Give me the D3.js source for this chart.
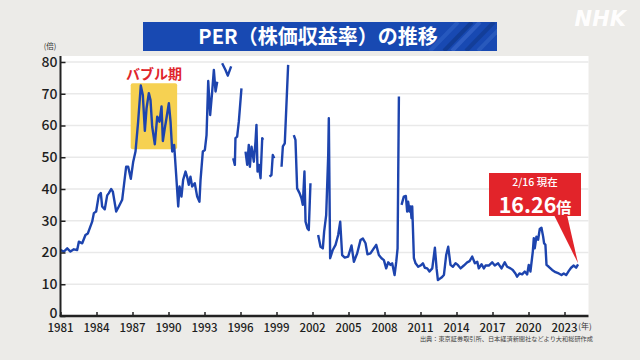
<!DOCTYPE html>
<html>
<head>
<meta charset="utf-8">
<script src="https://cdn.jsdelivr.net/npm/d3@7"></script>
<style>
body{margin:0;background:#ecebe8;}
svg{display:block;}
</style>
</head>
<body>
<svg id="chart"></svg>
<script>
/* PER (price earnings ratio) of the Tokyo market.
   null marks a break in the line (value off the chart / not defined) */
var years = [
  1981.00,1981.28,1981.56,1981.83,1982.11,1982.39,1982.53,1982.81,1983.08,1983.28,
  1983.64,1983.78,1983.97,1984.19,1984.36,1984.47,1984.69,1984.89,1985.03,1985.22,
  1985.36,1985.64,1985.86,1986.14,1986.47,1986.64,1986.86,1987.06,1987.25,1987.47,
  1987.69,1987.86,1988.03,1988.17,1988.36,1988.50,1988.64,1988.86,1989.06,1989.25,
  1989.42,1989.53,1989.69,1989.83,1990.03,1990.17,1990.31,1990.47,1990.64,1990.81,
  1990.92,1991.08,1991.22,1991.42,1991.58,1991.69,1991.83,1991.97,1992.19,1992.39,
  1992.58,1992.67,1992.86,1993.03,1993.17,1993.31,1993.47,1993.64,1993.78,1993.92,
  1994.06,1994.25,1994.47,1994.75,1994.94,1995.22,1995.30,1995.39,1995.53,1995.58,
  1995.72,1995.86,1996.08,1996.25,1996.42,1996.56,1996.69,1996.78,1996.92,1997.03,
  1997.11,1997.25,1997.33,1997.42,1997.53,1997.67,1997.81,1997.89,1998.15,1998.42,
  1998.58,1998.69,1998.81,1999.10,1999.42,1999.53,1999.69,1999.97,2000.20,2000.44,
  2000.58,2000.72,2000.92,2001.08,2001.19,2001.33,2001.42,2001.58,2001.69,2001.83,
  2002.15,2002.47,2002.67,2002.86,2002.97,2003.14,2003.31,2003.36,2003.47,2003.69,
  2003.92,2004.14,2004.31,2004.47,2004.69,2004.97,2005.25,2005.45,2005.72,2006.00,
  2006.20,2006.42,2006.58,2006.83,2007.11,2007.31,2007.53,2007.75,2007.95,2008.14,
  2008.31,2008.50,2008.64,2008.84,2008.98,2009.09,2009.20,2009.30,2009.42,2009.61,
  2009.78,2009.89,2009.97,2010.09,2010.17,2010.25,2010.31,2010.45,2010.59,2010.81,
  2011.00,2011.20,2011.36,2011.56,2011.75,2011.98,2012.20,2012.34,2012.45,2012.75,
  2012.95,2013.14,2013.31,2013.50,2013.70,2013.92,2014.11,2014.34,2014.61,2014.89,
  2015.09,2015.31,2015.53,2015.73,2015.86,2016.09,2016.28,2016.42,2016.69,2016.97,
  2017.19,2017.47,2017.75,2018.02,2018.22,2018.50,2018.69,2018.91,2019.05,2019.25,
  2019.47,2019.69,2019.89,2020.02,2020.16,2020.36,2020.44,2020.52,2020.66,2020.80,
  2020.94,2021.08,2021.22,2021.30,2021.41,2021.50,2021.69,2021.97,2022.25,2022.52,
  2022.75,2022.94,2023.14,2023.36,2023.55,2023.77,2023.97,2024.13
];
var perValues = [
  20.8,20.3,21.3,20.3,21.0,20.8,23.4,22.9,25.5,26.0,
  29.7,32.4,32.9,38.0,38.7,34.5,33.6,38.0,38.7,40.0,
  39.2,32.9,34.5,36.6,47.0,47.0,43.2,48.6,51.8,61.2,
  72.6,69.6,58.3,65.4,70.2,68.0,59.7,54.1,62.8,61.2,
  66.0,55.1,59.1,62.3,67.0,61.2,51.8,53.9,44.4,34.5,
  40.8,37.6,42.9,45.5,43.4,41.3,43.9,40.8,41.8,37.6,
  36.0,42.9,51.8,52.3,57.0,74.0,63.3,70.7,77.5,70.7,
  73.8,null,79.6,77.5,75.7,78.6,null,49.7,47.6,56.0,
  56.5,61.2,71.7,null,51.8,47.6,53.9,47.0,53.3,50.7,
  48.6,54.9,60.2,45.5,47.6,43.4,56.0,55.5,null,43.9,
  44.4,50.7,49.7,null,47.0,53.4,54.4,79.1,null,57.0,
  55.5,40.2,38.7,37.1,35.0,45.5,29.7,27.6,27.1,41.8,
  null,25.5,21.8,21.3,26.6,31.8,50.7,62.3,18.2,20.8,
  22.4,25.5,29.7,19.2,18.4,18.7,22.2,17.1,19.7,23.9,
  24.4,22.9,19.4,19.7,21.3,22.4,19.2,18.2,17.6,15.0,
  16.9,16.1,16.6,12.9,17.1,21.3,69.1,null,35.0,37.6,
  37.8,32.9,36.0,32.9,34.5,30.8,34.5,18.2,16.6,15.5,
  15.9,16.6,15.2,15.0,14.0,15.0,21.5,15.0,11.3,12.1,
  12.9,19.2,21.8,16.1,15.5,16.6,16.1,15.0,15.9,16.9,
  17.3,18.7,16.6,17.1,15.0,16.3,15.0,15.9,15.9,16.9,
  15.9,16.6,15.0,16.9,15.5,15.0,14.5,13.4,12.4,13.4,
  13.1,14.0,13.1,16.1,14.0,20.3,24.5,21.3,25.0,24.0,
  27.4,27.8,25.0,22.9,22.4,16.1,15.5,14.5,13.8,13.4,
  12.9,13.4,12.9,14.2,15.2,15.9,15.2,16.26
];

var yTicks = [0,10,20,30,40,50,60,70,80];
var xTicks = [1981,1984,1987,1990,1993,1996,1999,2002,2005,2008,2011,2014,2017,2020,2023];

/* bubble era highlight: years and PER range of the yellow box */
var bubbleYears = [1986.85, 1990.72];
var bubbleRange = [52.5, 73.3];

var titleText = "PER（株価収益率）の推移";
var sourceText = "出典：東京証券取引所、日本経済新聞社などより大和総研作成";
var latestLabel = "2/16 現在";
var latestValue = "16.26";

var W = 640, H = 360;
var svg = d3.select("#chart").attr("width", W).attr("height", H);

var xScale = d3.scaleLinear().domain([1981, 2025]).range([60.5, 588.5]);
var yScale = d3.scaleLinear().domain([0, 80]).range([316, 62]);

var jp = "'Noto Sans CJK JP', 'Noto Sans', sans-serif";

/* background */
svg.append("rect").attr("width", W).attr("height", H).attr("fill", "#ecebe8");

/* NHK mark */
svg.append("text")
  .attr("x", 626).attr("y", 26)
  .attr("text-anchor", "end")
  .attr("font-family", "'DejaVu Sans', sans-serif")
  .attr("font-weight", "bold")
  .attr("font-style", "italic")
  .attr("font-size", 21)
  .attr("fill", "#ffffff")
  .attr("opacity", 0.95)
  .text("NHK");

/* title banner */
var banner = svg.append("g");
banner.append("clipPath").attr("id", "bannerClip")
  .append("rect").attr("x", 143).attr("y", 22).attr("width", 354).attr("height", 29);
banner.append("rect")
  .attr("x", 143).attr("y", 22).attr("width", 354).attr("height", 29)
  .attr("fill", "#1849b2");
/* the diagonal streaks on the right end */
var streaks = [[430, "#2a5cc2"], [444, "#10398f"], [452, "#3463c6"], [466, "#123c94"], [478, "#2d5dbf"]];
banner.append("g").attr("clip-path", "url(#bannerClip)")
  .selectAll("line").data(streaks).enter()
  .append("line")
  .attr("x1", function(d){ return d[0]; }).attr("y1", 51)
  .attr("x2", function(d){ return d[0] + 28; }).attr("y2", 22)
  .attr("stroke", function(d){ return d[1]; })
  .attr("stroke-width", 4)
  .attr("opacity", 0.8);
banner.append("text")
  .attr("x", 318).attr("y", 44)
  .attr("text-anchor", "middle")
  .attr("font-family", jp)
  .attr("font-weight", "bold")
  .attr("font-size", 20)
  .attr("fill", "#ffffff")
  .text(titleText);

/* white plot panel */
svg.append("rect")
  .attr("x", xScale(1981)).attr("y", 56)
  .attr("width", xScale(2025) - xScale(1981)).attr("height", yScale(0) - 56)
  .attr("fill", "#ffffff");

/* grid lines */
svg.append("g").selectAll("line")
  .data(yTicks.filter(function(t){ return t > 0; }))
  .enter().append("line")
  .attr("x1", xScale(1981)).attr("x2", xScale(2025))
  .attr("y1", function(t){ return yScale(t); })
  .attr("y2", function(t){ return yScale(t); })
  .attr("stroke", "#e9e9e9")
  .attr("stroke-width", 1.3);

/* bubble period box */
svg.append("rect")
  .attr("x", xScale(bubbleYears[0]))
  .attr("y", yScale(bubbleRange[1]))
  .attr("width", xScale(bubbleYears[1]) - xScale(bubbleYears[0]))
  .attr("height", yScale(bubbleRange[0]) - yScale(bubbleRange[1]))
  .attr("rx", 2)
  .attr("fill", "#f6d152");
svg.append("text")
  .attr("x", (xScale(bubbleYears[0]) + xScale(bubbleYears[1])) / 2)
  .attr("y", yScale(bubbleRange[1]) - 4)
  .attr("text-anchor", "middle")
  .attr("font-family", jp)
  .attr("font-weight", "bold")
  .attr("font-size", 14)
  .attr("fill", "#e0262c")
  .text("バブル期");

/* the PER line */
var points = years.map(function(y, i){ return {year: y, per: perValues[i]}; });
var line = d3.line()
  .defined(function(d){ return d.per !== null; })
  .x(function(d){ return xScale(d.year); })
  .y(function(d){ return yScale(d.per); });
svg.append("path")
  .datum(points)
  .attr("d", line)
  .attr("fill", "none")
  .attr("stroke", "#1d44ae")
  .attr("stroke-width", 2.4)
  .attr("stroke-linejoin", "round");

/* y axis */
var yAxis = d3.axisRight(yScale).tickValues(yTicks).tickSize(5).tickFormat("");
var yg = svg.append("g").attr("transform", "translate(" + xScale(1981) + ",0)").call(yAxis);
yg.select(".domain").remove();
yg.selectAll(".tick line").attr("stroke", "#222").attr("stroke-width", 1.5);
svg.append("line")
  .attr("x1", xScale(1981)).attr("x2", xScale(1981))
  .attr("y1", 56).attr("y2", yScale(0))
  .attr("stroke", "#222").attr("stroke-width", 2);
svg.append("g").selectAll("text")
  .data(yTicks).enter().append("text")
  .attr("x", xScale(1981) - 3)
  .attr("y", function(t){ return yScale(t) - (t === 0 ? 2.5 : 0); })
  .attr("dy", "0.34em")
  .attr("text-anchor", "end")
  .attr("font-family", jp)
  .attr("font-weight", 500)
  .attr("font-size", 14)
  .attr("fill", "#1e1e1e")
  .text(function(t){ return t; });
svg.append("text")
  .attr("x", 50).attr("y", 49)
  .attr("text-anchor", "middle")
  .attr("font-family", jp)
  .attr("font-size", 7.5)
  .attr("fill", "#333")
  .text("(倍)");

/* x axis */
var xAxis = d3.axisTop(xScale).tickValues(xTicks).tickSize(4).tickFormat("");
var xg = svg.append("g").attr("transform", "translate(0," + yScale(0) + ")").call(xAxis);
xg.select(".domain").remove();
xg.selectAll(".tick line").attr("stroke", "#222").attr("stroke-width", 1.5);
svg.append("line")
  .attr("x1", xScale(1981) - 1).attr("x2", xScale(2025))
  .attr("y1", yScale(0)).attr("y2", yScale(0))
  .attr("stroke", "#222").attr("stroke-width", 2.4);
svg.append("g").selectAll("text")
  .data(xTicks).enter().append("text")
  .attr("x", function(t){ return xScale(t); })
  .attr("y", 331.5)
  .attr("text-anchor", "middle")
  .attr("font-family", jp)
  .attr("font-weight", 500)
  .attr("font-size", 11.5)
  .attr("fill", "#1e1e1e")
  .text(function(t){ return t; });
svg.append("text")
  .attr("x", 585).attr("y", 329)
  .attr("text-anchor", "middle")
  .attr("font-family", jp)
  .attr("font-size", 8)
  .attr("fill", "#333")
  .text("(年)");

/* source note */
svg.append("text")
  .attr("x", 593).attr("y", 340.5)
  .attr("text-anchor", "end")
  .attr("font-family", jp)
  .attr("font-size", 6.2)
  .attr("fill", "#444")
  .text(sourceText);

/* latest value callout, pointing at the last point */
var last = points[points.length - 1];
var tipX = xScale(last.year), tipY = yScale(last.per) - 1;
var box = {x: 489, y: 173, w: 92, h: 43};
var callout = svg.append("g");
callout.append("path")
  .attr("d", "M" + (box.x + box.w - 27) + "," + (box.y + box.h - 1) +
             "L" + tipX + "," + tipY +
             "L" + (box.x + box.w - 14) + "," + (box.y + box.h - 1) + "Z")
  .attr("fill", "#e2242a");
callout.append("rect")
  .attr("x", box.x).attr("y", box.y).attr("width", box.w).attr("height", box.h)
  .attr("fill", "#e2242a");
callout.append("text")
  .attr("x", box.x + box.w / 2).attr("y", box.y + 13)
  .attr("text-anchor", "middle")
  .attr("font-family", jp)
  .attr("font-weight", 500)
  .attr("font-size", 10.5)
  .attr("fill", "#ffffff")
  .text(latestLabel);
var big = callout.append("text")
  .attr("x", box.x + box.w / 2).attr("y", box.y + 39.5)
  .attr("text-anchor", "middle")
  .attr("font-family", jp)
  .attr("font-weight", "bold")
  .attr("fill", "#ffffff");
big.append("tspan").attr("font-size", 21.5).text(latestValue);
big.append("tspan").attr("font-size", 15).text("倍");
</script>
</body>
</html>
